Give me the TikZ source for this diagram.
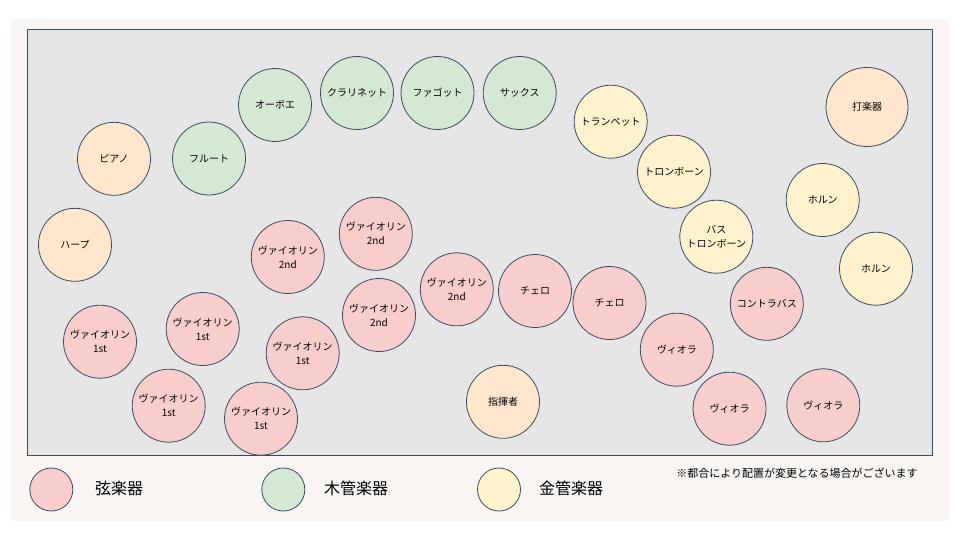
\documentclass[tikz,border=0pt]{standalone}
\usepackage{fontspec}
\setmainfont{Noto Sans CJK JP}
\usetikzlibrary{shapes.geometric}
\definecolor{pagebg}{HTML}{F8F5F2}
\definecolor{stagebg}{HTML}{E6E6E6}
\definecolor{stageline}{HTML}{3A4A63}
\definecolor{strfill}{HTML}{F8CECC}
\definecolor{woodfill}{HTML}{D5E8D4}
\definecolor{brassfill}{HTML}{FFF2CC}
\definecolor{otherfill}{HTML}{FFE6CC}
\definecolor{edgecol}{HTML}{3A4A63}
\tikzset{
  inst/.style={circle, draw=edgecol, line width=0.8pt, minimum size=73pt, inner sep=0pt, align=center, font=\fontsize{10}{14}\selectfont, text=black},
  strg/.style={inst, fill=strfill},
  wood/.style={inst, fill=woodfill},
  brass/.style={inst, fill=brassfill},
  other/.style={inst, fill=otherfill},
  legendmark/.style={circle, draw=edgecol, line width=0.8pt, minimum size=43pt, inner sep=0pt},
  legendtext/.style={anchor=west, inner sep=0pt, font=\fontsize{16}{18}\selectfont},
}
\begin{document}
\begin{tikzpicture}[x=1pt,y=-1pt]
\useasboundingbox (0,0) rectangle (960,540);
\fill[white] (0,0) rectangle (960,540);
\fill[pagebg] (11,19) rectangle (949,521);
\draw[fill=stagebg, draw=stageline, line width=0.9pt] (27.3,29.3) rectangle (932.7,455);

% woodwinds
\node[wood] (oboe) at (275,105) {オーボエ};
\node[wood] (clar) at (357,93) {クラリネット};
\node[wood] (fag) at (437.5,93) {ファゴット};
\node[wood] (sax) at (519.7,93) {サックス};
\node[wood] (flute) at (209,158.5) {フルート};

% others
\node[other] (piano) at (114,158.8) {ピアノ};
\node[other] (harp) at (75,244.8) {ハープ};
\node[other, ellipse, minimum width=82pt, minimum height=79pt] (perc) at (867,107) {打楽器};
\node[other] (cond) at (503,401.8) {指揮者};

% brass
\node[brass] (tp) at (610.7,121.7) {トランペット};
\node[brass] (tb) at (674,171.7) {トロンボーン};
\node[brass] (btb) at (716.3,236.7) {バス\\トロンボーン};
\node[brass] (hr1) at (822.7,200) {ホルン};
\node[brass] (hr2) at (876,268.7) {ホルン};

% strings: violin 1
\node[strg] (va) at (100,341.7) {ヴァイオリン\\1st};
\node[strg] (vb) at (202.7,329) {ヴァイオリン\\1st};
\node[strg] (vc) at (302.7,353.3) {ヴァイオリン\\1st};
\node[strg] (vd) at (168.7,405.7) {ヴァイオリン\\1st};
\node[strg] (ve) at (261,418.7) {ヴァイオリン\\1st};

% violin 2
\node[strg] (wa) at (287.8,257) {ヴァイオリン\\2nd};
\node[strg] (wb) at (375.8,233.8) {ヴァイオリン\\2nd};
\node[strg] (wc) at (379,315) {ヴァイオリン\\2nd};
\node[strg] (wd) at (456.8,289.3) {ヴァイオリン\\2nd};

% cello, viola, bass
\node[strg] (vca) at (535,291) {チェロ};
\node[strg] (vcb) at (609.5,303) {チェロ};
\node[strg] (vla) at (676.8,349.7) {ヴィオラ};
\node[strg] (vlb) at (729.5,408.7) {ヴィオラ};
\node[strg] (vlc) at (823.3,405.3) {ヴィオラ};
\node[strg] (cb) at (766.8,303.8) {コントラバス};

% legend
\node[legendmark, fill=strfill] (lg1) at (51.3,489.5) {};
\node[legendtext] (lt1) at (95,488) {弦楽器};
\node[legendmark, fill=woodfill] (lg2) at (283.3,489.5) {};
\node[legendtext] (lt2) at (323.8,488) {木管楽器};
\node[legendmark, fill=brassfill] (lg3) at (499,489.5) {};
\node[legendtext] (lt3) at (539,488) {金管楽器};

\node[anchor=center, inner sep=0pt, font=\fontsize{11}{13}\selectfont] (note) at (797,473.3) {※都合により配置が変更となる場合がございます};
\end{tikzpicture}
\end{document}
